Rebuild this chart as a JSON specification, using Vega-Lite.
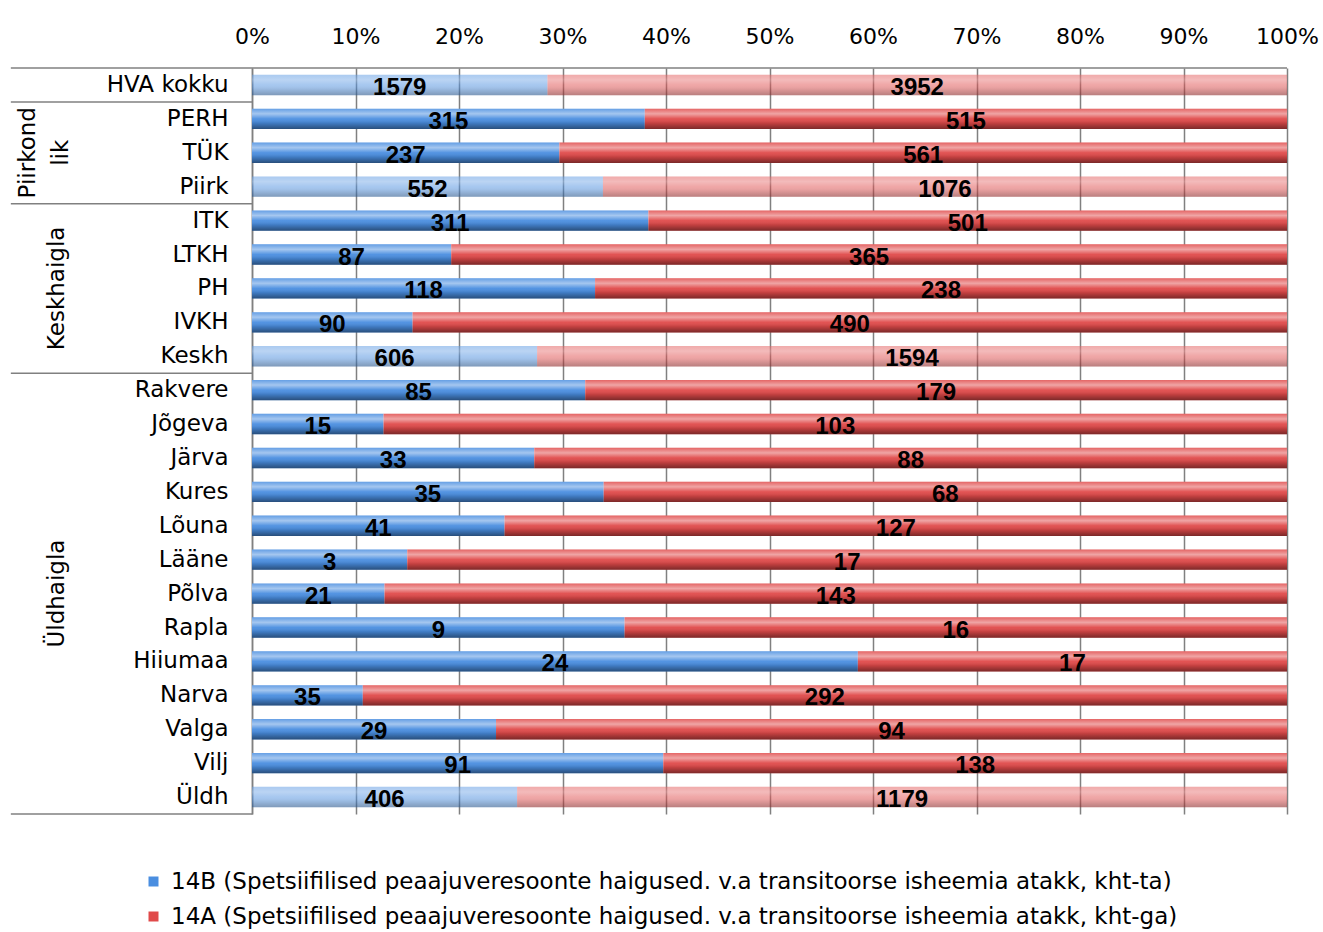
{
  "$schema": "https://vega.github.io/schema/vega-lite/v6.json",
  "autosize": "none",
  "width": 1035,
  "height": 746,
  "padding": {"left": 252, "top": 68, "right": 36, "bottom": 118},
  "background": "white",
  "config": {"font": "DejaVu Sans", "view": {"stroke": null}},
  "datasets": {
    "bars": [
      {"name": "HVA kokku", "series": "14B", "sub": "y", "value": 1579},
      {"name": "HVA kokku", "series": "14A", "sub": "y", "value": 3952},
      {"name": "PERH", "series": "14B", "sub": "n", "value": 315},
      {"name": "PERH", "series": "14A", "sub": "n", "value": 515},
      {"name": "TÜK", "series": "14B", "sub": "n", "value": 237},
      {"name": "TÜK", "series": "14A", "sub": "n", "value": 561},
      {"name": "Piirk", "series": "14B", "sub": "y", "value": 552},
      {"name": "Piirk", "series": "14A", "sub": "y", "value": 1076},
      {"name": "ITK", "series": "14B", "sub": "n", "value": 311},
      {"name": "ITK", "series": "14A", "sub": "n", "value": 501},
      {"name": "LTKH", "series": "14B", "sub": "n", "value": 87},
      {"name": "LTKH", "series": "14A", "sub": "n", "value": 365},
      {"name": "PH", "series": "14B", "sub": "n", "value": 118},
      {"name": "PH", "series": "14A", "sub": "n", "value": 238},
      {"name": "IVKH", "series": "14B", "sub": "n", "value": 90},
      {"name": "IVKH", "series": "14A", "sub": "n", "value": 490},
      {"name": "Keskh", "series": "14B", "sub": "y", "value": 606},
      {"name": "Keskh", "series": "14A", "sub": "y", "value": 1594},
      {"name": "Rakvere", "series": "14B", "sub": "n", "value": 85},
      {"name": "Rakvere", "series": "14A", "sub": "n", "value": 179},
      {"name": "Jõgeva", "series": "14B", "sub": "n", "value": 15},
      {"name": "Jõgeva", "series": "14A", "sub": "n", "value": 103},
      {"name": "Järva", "series": "14B", "sub": "n", "value": 33},
      {"name": "Järva", "series": "14A", "sub": "n", "value": 88},
      {"name": "Kures", "series": "14B", "sub": "n", "value": 35},
      {"name": "Kures", "series": "14A", "sub": "n", "value": 68},
      {"name": "Lõuna", "series": "14B", "sub": "n", "value": 41},
      {"name": "Lõuna", "series": "14A", "sub": "n", "value": 127},
      {"name": "Lääne", "series": "14B", "sub": "n", "value": 3},
      {"name": "Lääne", "series": "14A", "sub": "n", "value": 17},
      {"name": "Põlva", "series": "14B", "sub": "n", "value": 21},
      {"name": "Põlva", "series": "14A", "sub": "n", "value": 143},
      {"name": "Rapla", "series": "14B", "sub": "n", "value": 9},
      {"name": "Rapla", "series": "14A", "sub": "n", "value": 16},
      {"name": "Hiiumaa", "series": "14B", "sub": "n", "value": 24},
      {"name": "Hiiumaa", "series": "14A", "sub": "n", "value": 17},
      {"name": "Narva", "series": "14B", "sub": "n", "value": 35},
      {"name": "Narva", "series": "14A", "sub": "n", "value": 292},
      {"name": "Valga", "series": "14B", "sub": "n", "value": 29},
      {"name": "Valga", "series": "14A", "sub": "n", "value": 94},
      {"name": "Vilj", "series": "14B", "sub": "n", "value": 91},
      {"name": "Vilj", "series": "14A", "sub": "n", "value": 138},
      {"name": "Üldh", "series": "14B", "sub": "y", "value": 406},
      {"name": "Üldh", "series": "14A", "sub": "y", "value": 1179}
    ],
    "groups": [
      {"name": "PH", "group": "Keskhaigla"},
      {"name": "Põlva", "group": "Üldhaigla"}
    ],
    "groups2": [
      {"name": "TÜK", "group": "Piirkond|lik"}
    ],
    "seps": [
      {"name": "PERH"},
      {"name": "ITK"},
      {"name": "Rakvere"}
    ],
    "top": [{"name": "HVA kokku"}],
    "bottom": [{"name": "Üldh"}]
  },
  "layer": [
    {
      "data": {"name": "bars"},
      "mark": {"type": "bar", "height": {"band": 0.6}},
      "encoding": {
        "y": {
          "field": "name", "type": "nominal",
          "scale": {"domain": ["HVA kokku","PERH","TÜK","Piirk","ITK","LTKH","PH","IVKH","Keskh","Rakvere","Jõgeva","Järva","Kures","Lõuna","Lääne","Põlva","Rapla","Hiiumaa","Narva","Valga","Vilj","Üldh"], "paddingInner": 0, "paddingOuter": 0},
          "axis": {"title": null, "labelFontSize": 23, "labelColor": "black", "ticks": false, "domain": true, "domainColor": "#808080", "domainWidth": 1.5, "labelPadding": 24, "grid": false, "labelLimit": 300}
        },
        "x": {
          "field": "value", "type": "quantitative", "stack": "normalize",
          "scale": {"domain": [0, 1], "nice": false},
          "axis": {"orient": "top", "title": null, "format": ".0%", "values": [0,0.1,0.2,0.3,0.4,0.5,0.6,0.7,0.8,0.9,1], "grid": true, "gridColor": "#808080", "gridOpacity": 1, "gridWidth": 1.5, "domain": false, "ticks": false, "tickSize": 0, "labelFontSize": 22, "labelColor": "black", "labelPadding": 20, "labelFlush": false}
        },
        "color": {
          "field": "series", "type": "nominal",
          "scale": {"domain": ["14B", "14A"], "range": ["#4a8ee0", "#e04a4a"]},
          "legend": {
            "title": null, "orient": "none", "legendX": -110, "legendY": 802, "direction": "vertical",
            "symbolType": "square", "symbolSize": 100, "symbolStrokeWidth": 0, "symbolOpacity": 1,
            "labelFontSize": 23, "labelColor": "black", "labelLimit": 1200, "labelOffset": 6, "rowPadding": 11, "padding": 0,
            "labelExpr": "datum.label == '14B' ? '14B (Spetsiifilised peaajuveresoonte haigused. v.a transitoorse isheemia atakk, kht-ta)' : '14A (Spetsiifilised peaajuveresoonte haigused. v.a transitoorse isheemia atakk, kht-ga)'"
          }
        },
        "opacity": {"field": "sub", "type": "nominal", "scale": {"domain": ["n", "y"], "range": [1, 0.5]}, "legend": null},
        "order": {"field": "series", "sort": "descending"}
      }
    },
    {
      "data": {"name": "bars"},
      "mark": {
        "type": "bar", "height": {"band": 0.6},
        "fill": {"gradient": "linear", "x1": 0, "y1": 0, "x2": 0, "y2": 1, "stops": [
          {"offset": 0, "color": "rgba(255,255,255,0.15)"},
          {"offset": 0.25, "color": "rgba(255,255,255,0.5)"},
          {"offset": 0.5, "color": "rgba(255,255,255,0.05)"},
          {"offset": 0.7, "color": "rgba(0,0,0,0.12)"},
          {"offset": 1, "color": "rgba(0,0,0,0.45)"}
        ]}
      },
      "encoding": {
        "y": {"field": "name", "type": "nominal"},
        "x": {"field": "value", "type": "quantitative", "stack": "normalize"},
        "detail": {"field": "series"},
        "opacity": {"field": "sub", "type": "nominal", "legend": null},
        "order": {"field": "series", "sort": "descending"}
      }
    },
    {
      "data": {"name": "bars"},
      "mark": {"type": "text", "font": "Liberation Sans", "fontSize": 24, "fontWeight": "bold", "color": "black", "baseline": "middle", "align": "center", "dy": 3},
      "encoding": {
        "y": {"field": "name", "type": "nominal"},
        "x": {"field": "value", "type": "quantitative", "stack": "normalize", "bandPosition": 0.5},
        "detail": {"field": "series"},
        "order": {"field": "series", "sort": "descending"},
        "text": {"field": "value", "type": "quantitative"}
      }
    },
    {
      "data": {"name": "groups"},
      "mark": {"type": "text", "fontSize": 23, "color": "black", "angle": 270, "align": "center", "baseline": "middle"},
      "encoding": {
        "y": {"field": "name", "type": "nominal"},
        "x": {"datum": -0.188, "type": "quantitative"},
        "text": {"field": "group"}
      }
    },
    {
      "data": {"name": "groups2"},
      "mark": {"type": "text", "fontSize": 23, "color": "black", "angle": 270, "align": "center", "baseline": "middle", "lineBreak": "|", "lineHeight": 33},
      "encoding": {
        "y": {"field": "name", "type": "nominal"},
        "x": {"datum": -0.216, "type": "quantitative"},
        "text": {"field": "group"}
      }
    },
    {
      "data": {"name": "seps"},
      "mark": {"type": "rule", "color": "#808080", "strokeWidth": 1.5},
      "encoding": {
        "y": {"field": "name", "type": "nominal", "bandPosition": 0},
        "x": {"datum": -0.233, "type": "quantitative"},
        "x2": {"datum": 0}
      }
    },
    {
      "data": {"name": "top"},
      "mark": {"type": "rule", "color": "#808080", "strokeWidth": 1.5},
      "encoding": {
        "y": {"field": "name", "type": "nominal", "bandPosition": 0},
        "x": {"datum": -0.233, "type": "quantitative"},
        "x2": {"datum": 1}
      }
    },
    {
      "data": {"name": "bottom"},
      "mark": {"type": "rule", "color": "#808080", "strokeWidth": 1.5},
      "encoding": {
        "y": {"field": "name", "type": "nominal", "bandPosition": 1},
        "x": {"datum": -0.233, "type": "quantitative"},
        "x2": {"datum": 0}
      }
    }
  ]
}
